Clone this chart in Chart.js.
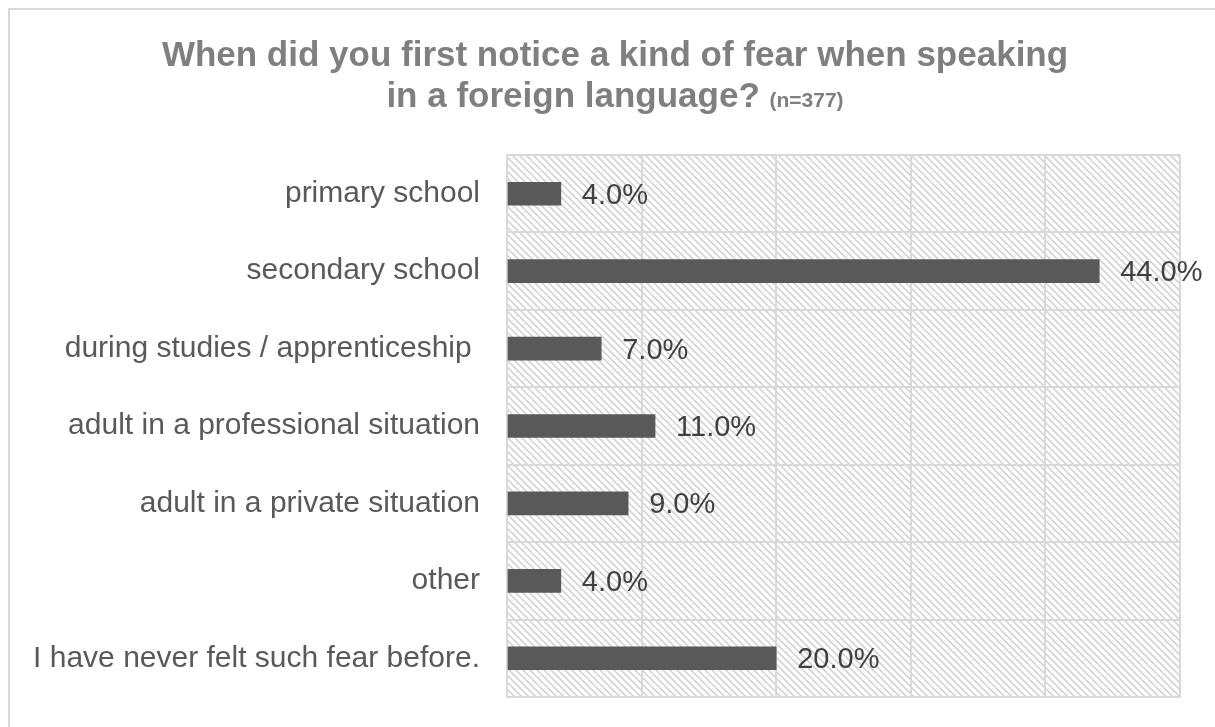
<!DOCTYPE html>
<html>
<head>
<meta charset="utf-8">
<script src="https://cdn.jsdelivr.net/npm/chart.js@4"></script>
<style>
  body { margin: 0; background: #ffffff; }
  #fearChart { display: block; }
</style>
</head>
<body>
<canvas id="fearChart" width="1215" height="727"></canvas>
<script>
const categories = [
    'primary school',
    'secondary school',
    'during studies / apprenticeship ',
    'adult in a professional situation',
    'adult in a private situation',
    'other',
    'I have never felt such fear before.'
];
const shares = [4.0, 44.0, 7.0, 11.0, 9.0, 4.0, 20.0];
const xTicks = [0, 10, 20, 30, 40, 50];
const titleLines = ['When did you first notice a kind of fear when speaking', 'in a foreign language?'];
const sampleNote = '(n=377)';

// diagonal hatch used behind the bars
function makeHatch() {
    const size = 7;
    const tile = document.createElement('canvas');
    tile.width = size;
    tile.height = size;
    const t = tile.getContext('2d');
    t.fillStyle = '#ffffff';
    t.fillRect(0, 0, size, size);
    t.strokeStyle = '#d4d4d4';
    t.lineWidth = 1.6;
    t.beginPath();
    t.moveTo(-1, -1); t.lineTo(size + 1, size + 1);
    t.moveTo(-1, size - 1); t.lineTo(1, size + 1);
    t.moveTo(size - 1, -1); t.lineTo(size + 1, 1);
    t.stroke();
    return tile;
}

const backdrop = {
    id: 'backdrop',
    beforeDraw(chart) {
        const ctx = chart.ctx;
        const a = chart.chartArea;
        ctx.save();
        ctx.fillStyle = '#ffffff';
        ctx.fillRect(0, 0, chart.width, chart.height);
        ctx.strokeStyle = '#d9d9d9';
        ctx.lineWidth = 2;
        ctx.strokeRect(9, 9, chart.width + 20, chart.height + 20);
        ctx.fillStyle = ctx.createPattern(makeHatch(), 'repeat');
        ctx.fillRect(a.left, a.top, a.right - a.left, a.bottom - a.top);
        ctx.restore();
    }
};

// two-line title, the sample size in a smaller face
const heading = {
    id: 'heading',
    afterDraw(chart) {
        const ctx = chart.ctx;
        const cx = 615;
        const big = 'bold 35px "Liberation Sans", Arial, sans-serif';
        const small = 'bold 21px "Liberation Sans", Arial, sans-serif';
        ctx.save();
        ctx.fillStyle = '#7f7f7f';
        ctx.textBaseline = 'alphabetic';
        ctx.textAlign = 'center';
        ctx.font = big;
        ctx.fillText(titleLines[0], cx, 66);
        const w1 = ctx.measureText(titleLines[1] + ' ').width;
        ctx.font = small;
        const w2 = ctx.measureText(sampleNote).width;
        const start = cx - (w1 + w2) / 2;
        ctx.textAlign = 'left';
        ctx.font = big;
        ctx.fillText(titleLines[1] + ' ', start, 107);
        ctx.font = small;
        ctx.fillText(sampleNote, start + w1, 107);
        ctx.restore();
    }
};

const valueLabels = {
    id: 'valueLabels',
    afterDatasetsDraw(chart) {
        const ctx = chart.ctx;
        const meta = chart.getDatasetMeta(0);
        ctx.save();
        ctx.fillStyle = '#404040';
        ctx.font = '29px "Liberation Sans", Arial, sans-serif';
        ctx.textAlign = 'left';
        ctx.textBaseline = 'middle';
        meta.data.forEach((bar, i) => {
            ctx.fillText(shares[i].toFixed(1) + '%', bar.x + 21, bar.y + 2);
        });
        ctx.restore();
    }
};

const ctx = document.getElementById('fearChart');
new Chart(ctx, {
    type: 'bar',
    data: {
        labels: categories,
        datasets: [{
            data: shares,
            backgroundColor: '#595959',
            barThickness: 23
        }]
    },
    options: {
        indexAxis: 'y',
        responsive: false,
        animation: false,
        layout: {
            padding: { top: 155, right: 35, bottom: 30, left: 0 }
        },
        scales: {
            x: {
                min: xTicks[0],
                max: xTicks[xTicks.length - 1],
                afterBuildTicks: function(scale) {
                    scale.ticks = xTicks.map(v => ({ value: v }));
                },
                afterFit: function(scale) {
                    scale.height = 0;
                },
                ticks: { display: false },
                grid: { color: '#d9d9d9', lineWidth: 2, drawTicks: false },
                border: { color: '#d9d9d9', width: 2 }
            },
            y: {
                afterFit: function(scale) {
                    scale.width = 507;
                    scale.paddingTop = 0;
                    scale.paddingBottom = 0;
                },
                ticks: {
                    padding: 27,
                    color: '#595959',
                    font: { family: '"Liberation Sans", Arial, sans-serif', size: 30 }
                },
                grid: { color: '#d9d9d9', lineWidth: 2, drawTicks: false },
                border: { color: '#d9d9d9', width: 2 }
            }
        },
        plugins: {
            legend: { display: false },
            title: { display: false },
            tooltip: { enabled: false }
        }
    },
    plugins: [backdrop, heading, valueLabels]
});
</script>
</body>
</html>
